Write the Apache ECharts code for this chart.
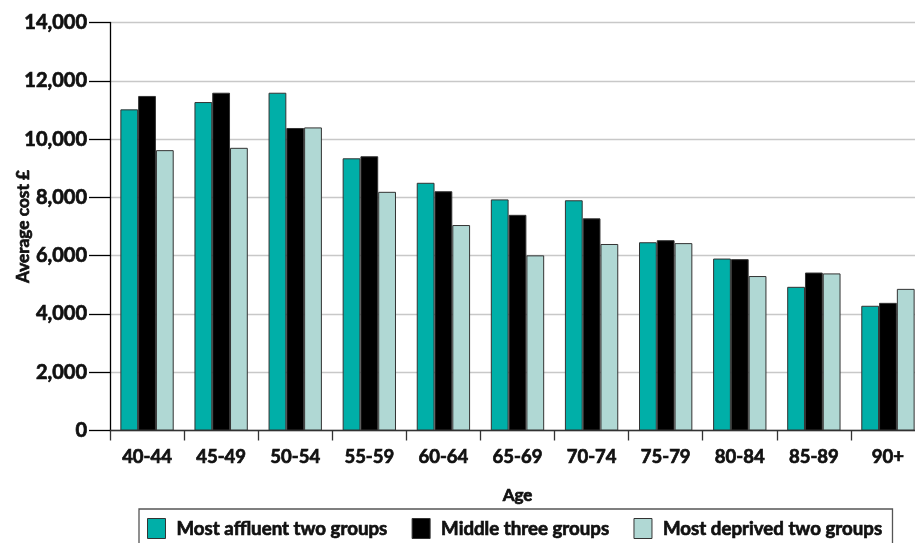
<!DOCTYPE html>
<html>
<head>
<meta charset="utf-8">
<style>
  html, body { margin: 0; padding: 0; background: #ffffff; }
  #chart { width: 915px; height: 543px; }
</style>
<script src="https://cdn.jsdelivr.net/npm/echarts@6/dist/echarts.min.js"></script>
</head>
<body>
<div id="chart"></div>
<script>
// Age bands along the x axis
const ageBands = ['40-44', '45-49', '50-54', '55-59', '60-64', '65-69', '70-74', '75-79', '80-84', '85-89', '90+'];

// Average cost (£) per deprivation grouping
const affluentCost = [11020, 11270, 11590, 9340, 8500, 7930, 7900, 6460, 5900, 4930, 4280];
const middleCost   = [11480, 11590, 10380, 9410, 8210, 7400, 7280, 6530, 5880, 5420, 4380];
const deprivedCost = [9620, 9700, 10400, 8190, 7050, 6010, 6400, 6430, 5300, 5390, 4860];

const seriesNames = ['Most affluent two groups', 'Middle three groups', 'Most deprived two groups'];

const FONT = 'Lato';
const INK = '#111111';
const TEAL = '#00afa8';
const BLACK = '#000000';
const PALE = '#b0d8d4';

// heavy bold text: bold face plus a thin outline in the same ink
function heavy(size, extra) {
  return Object.assign({
    fontFamily: FONT, fontWeight: 'bold', fontSize: size, color: INK,
    textBorderColor: INK, textBorderWidth: 0.7
  }, extra || {});
}

const chart = echarts.init(document.getElementById('chart'), null, { renderer: 'canvas' });

function barSeries(name, data, color) {
  return {
    name: name,
    type: 'bar',
    data: data,
    barGap: '0%',
    barCategoryGap: '28%',
    itemStyle: { color: color, borderColor: '#333333', borderWidth: 1 },
    emphasis: { disabled: true }
  };
}

chart.setOption({
  animation: false,
  backgroundColor: '#ffffff',
  textStyle: { fontFamily: FONT },
  grid: {
    left: 110, right: -10, top: 22.5, bottom: 112.5,
    containLabel: false, outerBoundsMode: 'none'
  },
  legend: {
    data: seriesNames,
    left: 139,
    top: 509,
    padding: [9, 10, 12, 8],
    itemWidth: 18,
    itemHeight: 20,
    itemGap: 24,
    icon: 'rect',
    borderColor: '#555555',
    borderWidth: 1.3,
    itemStyle: { borderColor: '#333333', borderWidth: 1 },
    textStyle: heavy(18.7, { padding: [0, 0, 0, 6] })
  },
  xAxis: {
    type: 'category',
    data: ageBands,
    name: 'Age',
    nameLocation: 'middle',
    nameGap: 57,
    nameMoveOverlap: false,
    nameTextStyle: heavy(17),
    axisLine: { show: true, lineStyle: { color: '#333333', width: 1.3 } },
    axisTick: { show: true, alignWithLabel: false, length: 10, lineStyle: { color: '#333333', width: 1.3 } },
    axisLabel: heavy(18.5, { margin: 17 }),
    splitLine: { show: false }
  },
  yAxis: {
    type: 'value',
    min: 0,
    max: 14000,
    interval: 2000,
    name: 'Average cost £',
    nameLocation: 'middle',
    nameGap: 78,
    nameRotate: 90,
    nameMoveOverlap: false,
    nameTextStyle: heavy(17.3),
    axisLine: { show: true, lineStyle: { color: '#000000', width: 1.3 } },
    axisTick: { show: true, inside: false, length: 21, lineStyle: { color: '#000000', width: 1.3 } },
    axisLabel: heavy(20, {
      margin: 23,
      formatter: function (v) { return v.toLocaleString('en-GB'); }
    }),
    splitLine: { show: true, lineStyle: { color: '#c8c8c8', width: 1.3 } }
  },
  series: [
    barSeries(seriesNames[0], affluentCost, TEAL),
    barSeries(seriesNames[1], middleCost, BLACK),
    barSeries(seriesNames[2], deprivedCost, PALE)
  ]
});
</script>
</body>
</html>
